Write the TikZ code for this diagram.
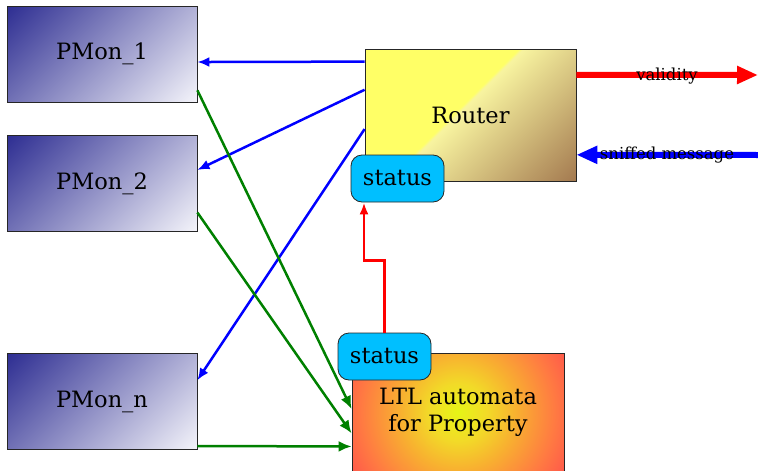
\documentclass[tikz,border=0pt]{standalone}
\usepackage{fontspec}
\setmainfont{DejaVu Serif}
\usetikzlibrary{arrows.meta,calc,shadings}

\definecolor{monDark}{HTML}{2E2E92}
\definecolor{monLight}{HTML}{F4F4FA}
\definecolor{statusBlue}{HTML}{00BFFF}
\definecolor{routerYellow}{HTML}{FFFF66}
\definecolor{routerPale}{HTML}{F8F4A0}
\definecolor{routerBrown}{HTML}{A47A50}
\definecolor{ltlCore}{HTML}{E6F516}
\definecolor{ltlWarm}{HTML}{F2DA28}
\definecolor{ltlOrange}{HTML}{F8B030}
\definecolor{ltlHot}{HTML}{FF7A42}
\definecolor{ltlRim}{HTML}{FF5A4A}
\definecolor{linkGreen}{HTML}{008000}

% diagonal fills: 25bp is the lower-right corner, 75bp the upper-left one
\pgfdeclareverticalshading{monshade}{100bp}{%
  color(0bp)=(monLight); color(25bp)=(monLight);
  color(75bp)=(monDark); color(100bp)=(monDark)}
\pgfdeclareverticalshading{routershade}{100bp}{%
  color(0bp)=(routerBrown); color(25bp)=(routerBrown);
  color(52bp)=(routerPale); color(52.6bp)=(routerYellow);
  color(100bp)=(routerYellow)}
\pgfdeclareradialshading{ltlshade}{\pgfpoint{0bp}{0bp}}{%
  color(0bp)=(ltlCore); color(6bp)=(ltlWarm); color(12bp)=(ltlOrange);
  color(20bp)=(ltlHot); color(25bp)=(ltlRim); color(50bp)=(ltlRim)}

\tikzset{
  boxfont/.style={font=\fontsize{22.5}{27}\selectfont},
  diagfill/.style 2 args={path picture={
    \shade[shading=#1, shading angle=45]
      ([shift={(-#2,-#2)}]path picture bounding box.center)
      rectangle ([shift={(#2,#2)}]path picture bounding box.center);}},
  monbox/.style={draw=black!85, line width=0.8pt, minimum width=190pt,
    minimum height=96pt, diagfill={monshade}{101.1}, boxfont},
  routerbox/.style={draw=black!85, line width=0.8pt, minimum width=211pt,
    minimum height=132pt, diagfill={routershade}{121.3}, boxfont},
  ltlbox/.style={draw=black!85, line width=0.8pt, minimum width=212pt,
    minimum height=118pt, align=center, boxfont,
    path picture={\shade[shading=ltlshade]
      (path picture bounding box.center) circle (121pt);}},
  statusbox/.style={draw=black!85, line width=0.8pt, fill=statusBlue,
    rounded corners=11pt, minimum width=93pt, minimum height=47pt, boxfont},
  toMon/.style={blue, line width=2.5pt, -{Latex[length=12pt,width=10pt]}},
  toLtl/.style={linkGreen, line width=2.5pt, -{Latex[length=13pt,width=11pt]}},
  statusLink/.style={red, line width=2.5pt, -{Latex[length=12pt,width=9pt]}},
  bigFlow/.style={line width=6pt, -{Triangle[length=21pt,width=17pt]}},
  flowLabel/.style={font=\fontsize{16.5}{20}\selectfont, inner sep=0pt}
}

\begin{document}
\begin{tikzpicture}[x=1pt,y=-1pt]
  \useasboundingbox (0,0) rectangle (758,471);
  \clip (0,0) rectangle (758,471);

  % property monitors
  \node[monbox] (mon1) at (102,54) {PMon\_1};
  \node[monbox] (mon2) at (102,183.5) {PMon\_2};
  \node[monbox] (monn) at (102,401.5) {PMon\_n};

  % router and its status flag
  \node[routerbox] (router) at (470.5,115) {Router};
  \node[statusbox] (rstatus) at (397.5,178.5) {status};

  % automaton and its status flag
  \node[ltlbox] (ltl) at (458,412) {LTL automata\\for Property};
  \node[statusbox] (lstatus) at (384.5,356.5) {status};

  % router dispatches to the monitors
  \draw[toMon] ($(router.north west)!0.098!(router.south west)$)
    -- ($(mon1.north east)!0.583!(mon1.south east)$);
  \draw[toMon] ($(router.north west)!0.31!(router.south west)$)
    -- ($(mon2.north east)!0.36!(mon2.south east)$);
  \draw[toMon] ($(router.north west)!0.606!(router.south west)$)
    -- ($(monn.north east)!0.28!(monn.south east)$);

  % monitors feed the automaton
  \draw[toLtl] ($(mon1.north east)!0.875!(mon1.south east)$)
    -- ($(ltl.north west)!0.475!(ltl.south west)$);
  \draw[toLtl] ($(mon2.north east)!0.80!(mon2.south east)$)
    -- ($(ltl.north west)!0.68!(ltl.south west)$);
  \draw[toLtl] ($(monn.north east)!0.96!(monn.south east)$)
    -- ($(ltl.north west)!0.79!(ltl.south west)$);

  % status propagation
  \draw[statusLink] (lstatus.north) -- ++(0,-72) -| ([xshift=-33.5pt]rstatus.south);

  % external interface
  \coordinate (validOut) at (758,75);
  \coordinate (sniffIn) at (758,155);
  \draw[bigFlow, red] ($(router.north east)!0.197!(router.south east)$) -- (validOut);
  \draw[bigFlow, blue] (sniffIn) -- ($(router.north east)!0.80!(router.south east)$);
  \node[flowLabel] (validLbl) at (667,76) {validity};
  \node[flowLabel] (sniffLbl) at (667,155) {sniffed message};
\end{tikzpicture}
\end{document}
